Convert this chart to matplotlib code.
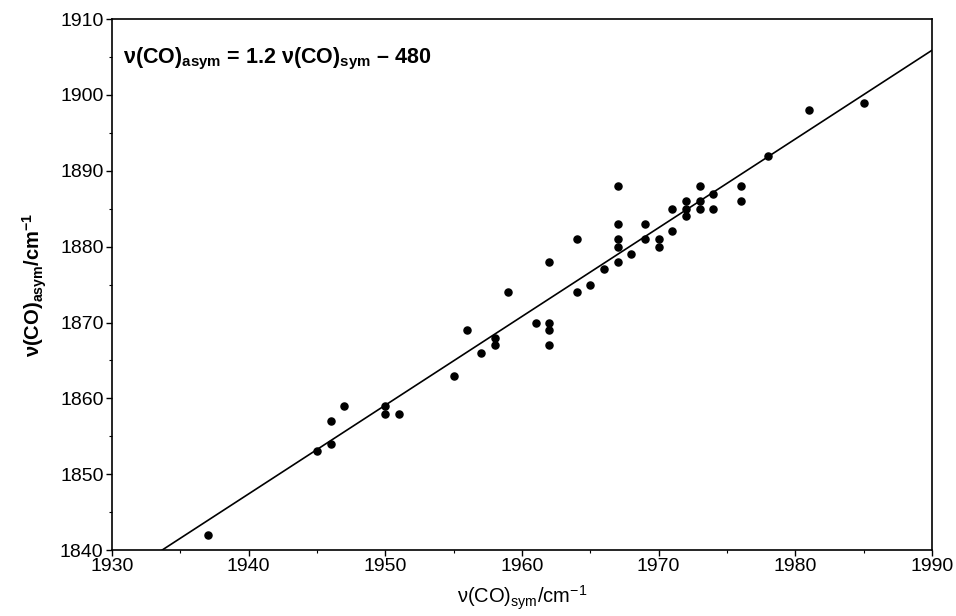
import matplotlib
matplotlib.use("Agg")
import matplotlib.pyplot as plt
from matplotlib.ticker import MultipleLocator
import numpy as np

# data
co_sym = [1937, 1945, 1946, 1946, 1947, 1950, 1950, 1951, 1955, 1956,
          1957, 1958, 1958, 1959, 1961, 1962, 1962, 1962, 1962, 1964,
          1964, 1965, 1966, 1967, 1967, 1967, 1967, 1967, 1968, 1969,
          1969, 1970, 1970, 1971, 1971, 1972, 1972, 1972, 1973, 1973,
          1973, 1974, 1974, 1976, 1976, 1978, 1981, 1985]
co_asym = [1842, 1853, 1854, 1857, 1859, 1859, 1858, 1858, 1863, 1869,
           1866, 1868, 1867, 1874, 1870, 1870, 1869, 1867, 1878, 1881,
           1874, 1875, 1877, 1888, 1883, 1881, 1880, 1878, 1879, 1883,
           1881, 1881, 1880, 1882, 1885, 1886, 1885, 1884, 1888, 1886,
           1885, 1887, 1885, 1888, 1886, 1892, 1898, 1899]

# fitted line as drawn in the figure
fit_slope = 1.17
fit_intercept = -422.4
fit_x = [1930, 1990]

x_ticks = [1930, 1940, 1950, 1960, 1970, 1980, 1990]
y_ticks = [1840, 1850, 1860, 1870, 1880, 1890, 1900, 1910]

plt.rcParams['font.family'] = ['Liberation Sans', 'DejaVu Sans']
plt.rcParams['mathtext.fontset'] = 'custom'
plt.rcParams['mathtext.rm'] = 'Liberation Sans'
plt.rcParams['mathtext.it'] = 'Liberation Sans'
plt.rcParams['mathtext.bf'] = 'Liberation Sans:bold'

fig = plt.figure(figsize=(9.56, 6.16), dpi=100)
ax = fig.add_axes([0.117, 0.107, 0.858, 0.862])

xs = np.array(fit_x, dtype=float)
ax.plot(xs, fit_slope * xs + fit_intercept, color='black', lw=1.2)
ax.scatter(co_sym, co_asym, s=26, color='black', zorder=3)

ax.set_xlim(1930, 1990)
ax.set_ylim(1840, 1910)
ax.set_xticks(x_ticks)
ax.set_yticks(y_ticks)
ax.xaxis.set_minor_locator(MultipleLocator(5))
ax.yaxis.set_minor_locator(MultipleLocator(5))
ax.tick_params(which='major', direction='out', length=4, width=1, labelsize=14, pad=2)
ax.tick_params(which='minor', direction='out', length=2.5, width=0.8)
for sp in ax.spines.values():
    sp.set_linewidth(1.2)

ax.set_xlabel(r'$\mathrm{ν(CO)_{sym}/cm^{-1}}$', fontsize=14.5, labelpad=6)
ax.set_ylabel(r'$\mathbf{ν(CO)_{asym}/cm^{-1}}$', fontsize=14.5, labelpad=8)

ax.text(0.013, 0.95, r'$\mathbf{ν(CO)_{asym}}$ = 1.2 $\mathbf{ν(CO)_{sym}}$ – 480',
        transform=ax.transAxes, fontsize=15.5, fontweight='bold', va='top', ha='left')

fig.savefig('out.png', dpi=100)
